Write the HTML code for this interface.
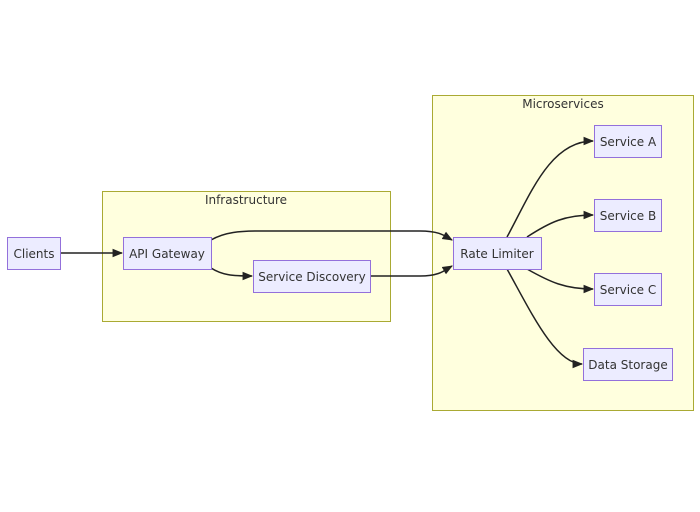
<!DOCTYPE html>
<html><head><meta charset="utf-8"><style>
body{margin:0;background:#fff;width:700px;height:507px;overflow:hidden}
svg text{font-family:"DejaVu Sans","Liberation Sans",sans-serif;font-size:12px;fill:#333}
.n{fill:#ECECFF;stroke:#9370DB;stroke-width:1}
.c{fill:#ffffde;stroke:#aaaa33;stroke-width:1}
.e{fill:none;stroke:#222;stroke-width:1.5}
</style></head><body>
<svg width="700" height="507" xmlns="http://www.w3.org/2000/svg">
<defs><marker id="a" viewBox="0 0 10 10" refX="9" refY="5" markerWidth="7" markerHeight="7" orient="auto"><path d="M0,1 L10,5 L0,9z" fill="#222"/></marker></defs>
<rect class="c" x="102.5" y="191.5" width="288" height="130"/>
<text x="246" y="204" text-anchor="middle">Infrastructure</text>
<rect class="c" x="432.5" y="95.5" width="261" height="315"/>
<text x="563" y="108" text-anchor="middle">Microservices</text>
<path class="e" d="M60,253 L122,253" marker-end="url(#a)"/>
<path class="e" d="M211,240 C225,232 240,231 260,231 L420,231 C440,231 445,236 452,240" marker-end="url(#a)"/>
<path class="e" d="M211,268 C222,275 232,276 252,276" marker-end="url(#a)"/>
<path class="e" d="M370,276 L420,276 C440,276 445,270 452,266" marker-end="url(#a)"/>
<path class="e" d="M507,237 C530,195 550,141 593,141" marker-end="url(#a)"/>
<path class="e" d="M527,237 C550,222 565,215 593,215" marker-end="url(#a)"/>
<path class="e" d="M527,269 C550,282 565,289 593,289" marker-end="url(#a)"/>
<path class="e" d="M507,269 C530,310 555,364 582,364" marker-end="url(#a)"/>
<rect class="n" x="7.5" y="237.5" width="53" height="32"/><text x="34" y="258" text-anchor="middle">Clients</text>
<rect class="n" x="123.5" y="237.5" width="88" height="32"/><text x="167" y="258" text-anchor="middle">API Gateway</text>
<rect class="n" x="253.5" y="260.5" width="117" height="32"/><text x="312" y="281" text-anchor="middle">Service Discovery</text>
<rect class="n" x="453.5" y="237.5" width="88" height="32"/><text x="497" y="258" text-anchor="middle">Rate Limiter</text>
<rect class="n" x="594.5" y="125.5" width="67" height="32"/><text x="628" y="146" text-anchor="middle">Service A</text>
<rect class="n" x="594.5" y="199.5" width="67" height="32"/><text x="628" y="220" text-anchor="middle">Service B</text>
<rect class="n" x="594.5" y="273.5" width="67" height="32"/><text x="628" y="294" text-anchor="middle">Service C</text>
<rect class="n" x="583.5" y="348.5" width="89" height="32"/><text x="628" y="369" text-anchor="middle">Data Storage</text>
</svg>
</body></html>
